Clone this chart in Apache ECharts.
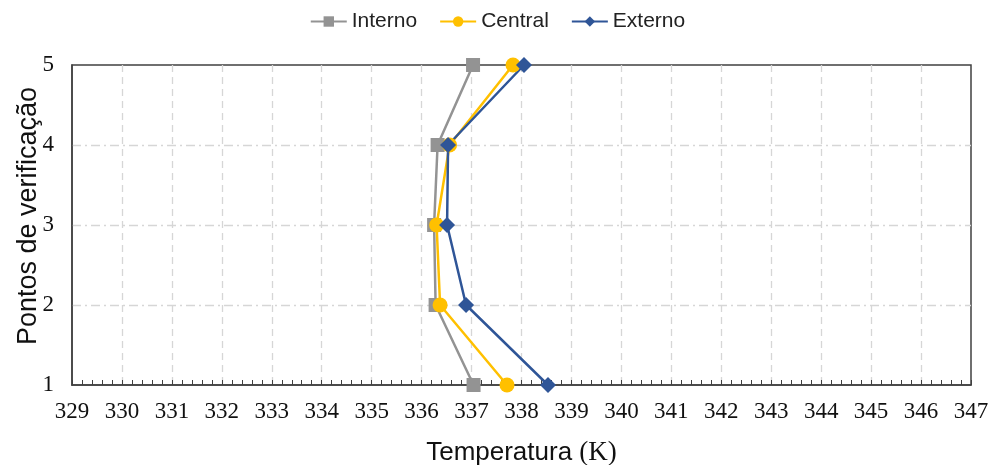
<!DOCTYPE html>
<html>
<head>
<meta charset="utf-8">
<script src="https://cdn.jsdelivr.net/npm/echarts@6/dist/echarts.min.js"></script>
<style>html,body{margin:0;padding:0;background:#fff}#c{width:995px;height:465px}</style>
</head>
<body>
<div id="c"></div>
<script>
const points = [1, 2, 3, 4, 5];
const interno = [337.04, 336.28, 336.25, 336.32, 337.03];
const central = [337.71, 336.37, 336.30, 336.56, 337.83];
const externo = [338.53, 336.89, 336.51, 336.53, 338.05];
const seriesNames = ['Interno', 'Central', 'Externo'];

const chart = echarts.init(document.getElementById('c'), null, {renderer: 'canvas'});
const pair = arr => arr.map((v, i) => [v, points[i]]);
const serif = '"Liberation Serif", "Times New Roman", serif';
const sans = '"Liberation Sans", Arial, sans-serif';

chart.setOption({
  animation: false,
  backgroundColor: '#fff',
  legend: {
    top: 6,
    left: 'center',
    itemWidth: 36,
    itemHeight: 13,
    itemGap: 22,
    textStyle: {fontFamily: sans, fontSize: 21, color: '#222'},
    data: seriesNames
  },
  grid: {left: 72, right: 24, top: 65, bottom: 80, outerBoundsMode: 'none', containLabel: false,
         show: true, borderColor: '#404040', borderWidth: 1.5},
  xAxis: {
    type: 'value', min: 329, max: 347, interval: 1,
    name: 'Temperatura {s|(K)}',
    nameLocation: 'middle', nameGap: 54, nameMoveOverlap: false,
    nameTextStyle: {fontFamily: sans, fontSize: 26, color: '#111', rich: {s: {fontFamily: serif, fontSize: 27, color: '#111'}}},
    axisLine: {show: true, lineStyle: {color: '#404040', width: 1.5}},
    axisTick: {show: true, inside: true, length: 5, lineStyle: {color: '#404040'}},
    minorTick: {show: true, splitNumber: 5, length: 5, lineStyle: {color: '#404040'}},
    axisLabel: {fontFamily: serif, fontSize: 23, color: '#111', margin: 15},
    splitLine: {show: true, showMinLine: false, showMaxLine: false, lineStyle: {color: '#d6d6d6', type: [7, 5], width: 1.3}}
  },
  yAxis: {
    type: 'value', min: 1, max: 5, interval: 1,
    name: 'Pontos de verificação',
    nameLocation: 'middle', nameGap: 30, nameMoveOverlap: false,
    nameTextStyle: {fontFamily: sans, fontSize: 27, color: '#111', padding: [0, 0, 0, 18]},
    axisLine: {show: true, lineStyle: {color: '#404040', width: 1.5}},
    axisTick: {show: false},
    axisLabel: {fontFamily: serif, fontSize: 23, color: '#111', margin: 18},
    splitLine: {show: true, showMinLine: false, showMaxLine: false, lineStyle: {color: '#d6d6d6', type: [9, 4, 2, 4], width: 1.3}}
  },
  series: [
    {name: seriesNames[0], type: 'line', data: pair(interno), symbol: 'rect', symbolSize: 14,
     itemStyle: {color: '#939393'}, lineStyle: {color: '#939393', width: 2.5}},
    {name: seriesNames[1], type: 'line', data: pair(central), symbol: 'circle', symbolSize: 15,
     itemStyle: {color: '#FFC000'}, lineStyle: {color: '#FFC000', width: 2.5}},
    {name: seriesNames[2], type: 'line', data: pair(externo), symbol: 'diamond', symbolSize: 16,
     itemStyle: {color: '#2F5597'}, lineStyle: {color: '#2F5597', width: 2.5}}
  ]
});
</script>
</body>
</html>
